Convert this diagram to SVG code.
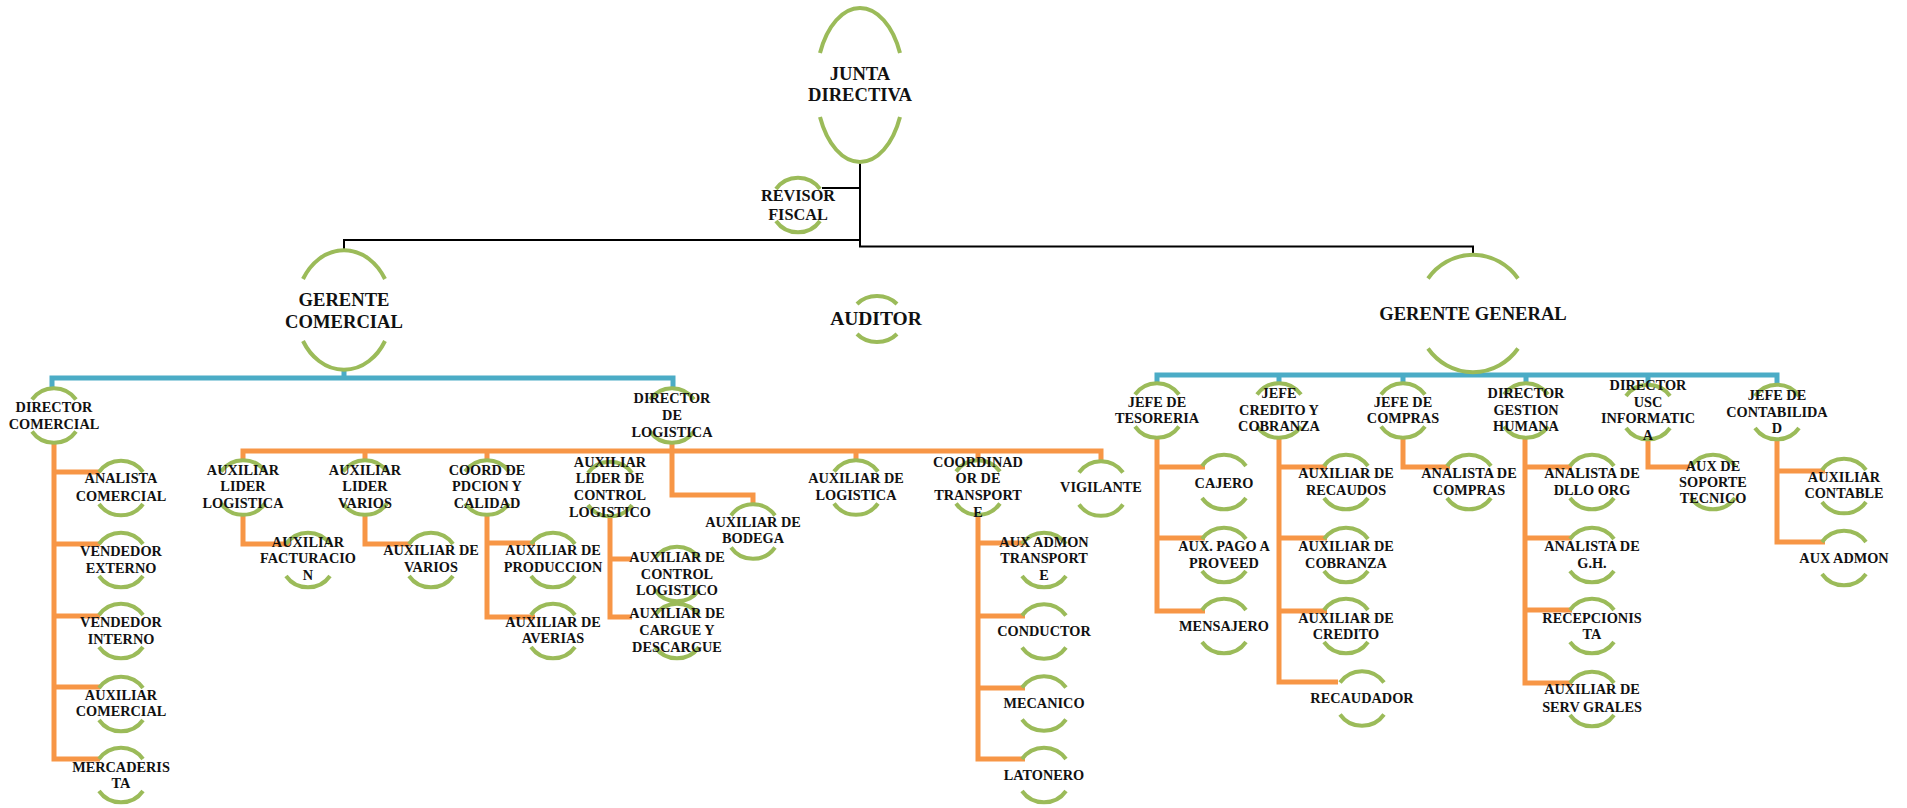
<svg xmlns="http://www.w3.org/2000/svg" width="1907" height="808" viewBox="0 0 1907 808">
<style>
.arc{fill:none;stroke:#9bbb59;stroke-width:4}
.t{font-family:"Liberation Serif","Times New Roman",serif;font-weight:bold;font-size:14.3px;fill:#111;text-anchor:middle}
.tl{font-size:18.6px}
.tm{font-size:16.3px}
.k{fill:none;stroke:#000;stroke-width:2}
.b{fill:none;stroke:#4bacc6;stroke-width:5}
.o{fill:none;stroke:#f79646;stroke-width:5}
</style>
<defs>
<path id="s" d="M-22,-16 A27,27 0 0 1 22,-16 M-22,16 A27,27 0 0 0 22,16"/>
<path id="junta" d="M-40,-32 A44,77 0 0 1 40,-32 M-40,32 A44,77 0 0 0 40,32"/>
<path id="gcom" d="M-41,-31 A48,60 0 0 1 41,-31 M-41,31 A48,60 0 0 0 41,31"/>
<path id="ggen" d="M-45,-35 A56,58.5 0 0 1 45,-35 M-45,35 A56,58.5 0 0 0 45,35"/>
<path id="aud" d="M-20,-15 A26.4,23 0 0 1 20,-15 M-20,15 A26.4,23 0 0 0 20,15"/>
</defs>
<rect width="1907" height="808" fill="#fff"/>
<g id="connectors">
<path class="k" d="M860,162 V246.5 H1473 V255"/>
<path class="k" d="M860,240 H344 V250"/>
<path class="k" d="M822,188 H860"/>
<path class="b" d="M52,388 V378 H673 V388 M344,370 V378"/>
<path class="b" d="M1157,383 V375 H1777 V385 M1473,372 V375 M1279,375 V383 M1403,375 V383 M1526,375 V383 M1648,375 V384"/>
<path class="o" d="M54,443 V759 H100 M54,472 H100 M54,544 H100 M54,616 H100 M54,687 H100"/>
<path class="o" d="M672,443 V451 M243,460 V451 H1101 V462 M365,451 V460 M487,451 V460 M856,451 V460 M978,451 V460"/>
<path class="o" d="M672,451 V495 H753 V505"/>
<path class="o" d="M243,515 V544 H290"/>
<path class="o" d="M365,515 V544 H410"/>
<path class="o" d="M487,515 V617 H535 M487,543 H535"/>
<path class="o" d="M610,517 V617 H632 M610,559 H632"/>
<path class="o" d="M978,517 V759 H1025 M978,543 H1025 M978,616 H1025 M978,688 H1025"/>
<path class="o" d="M1157,438 V611 H1205 M1157,467 H1205 M1157,538 H1205"/>
<path class="o" d="M1279,438 V682 H1338 M1279,467 H1327 M1279,538 H1327 M1279,611 H1327"/>
<path class="o" d="M1403,438 V467 H1450"/>
<path class="o" d="M1525,438 V683 H1572 M1525,467 H1572 M1525,538 H1572 M1525,610 H1572"/>
<path class="o" d="M1648,440 V467 H1690"/>
<path class="o" d="M1777,440 V542 H1825 M1777,471 H1825"/>
</g>
<g id="junta-directiva"><use href="#junta" class="arc" x="860" y="85"/><text class="t tl"><tspan x="860" y="80">JUNTA</tspan><tspan x="860" y="101">DIRECTIVA</tspan></text></g>
<g id="revisor-fiscal"><use href="#s" class="arc" x="798" y="205"/><text class="t tm"><tspan x="798" y="201">REVISOR</tspan><tspan x="798" y="220">FISCAL</tspan></text></g>
<g id="gerente-comercial"><use href="#gcom" class="arc" x="344" y="310"/><text class="t tl"><tspan x="344" y="306">GERENTE</tspan><tspan x="344" y="328">COMERCIAL</tspan></text></g>
<g id="auditor"><use href="#aud" class="arc" x="877" y="319"/><text class="t" style="font-size:19.5px" x="876" y="325">AUDITOR</text></g>
<g id="gerente-general"><use href="#ggen" class="arc" x="1473" y="313.5"/><text class="t tl" x="1473" y="320">GERENTE GENERAL</text></g>

<g id="director-comercial"><use href="#s" class="arc" x="54" y="415.5"/><text class="t"><tspan x="54" y="412">DIRECTOR</tspan><tspan x="54" y="429">COMERCIAL</tspan></text></g>
<g id="analista-comercial"><use href="#s" class="arc" x="121" y="488"/><text class="t"><tspan x="121" y="483">ANALISTA</tspan><tspan x="121" y="501">COMERCIAL</tspan></text></g>
<g id="vendedor-externo"><use href="#s" class="arc" x="121" y="560"/><text class="t"><tspan x="121" y="556">VENDEDOR</tspan><tspan x="121" y="573">EXTERNO</tspan></text></g>
<g id="vendedor-interno"><use href="#s" class="arc" x="121" y="631"/><text class="t"><tspan x="121" y="627">VENDEDOR</tspan><tspan x="121" y="644">INTERNO</tspan></text></g>
<g id="auxiliar-comercial"><use href="#s" class="arc" x="121" y="704"/><text class="t"><tspan x="121" y="700">AUXILIAR</tspan><tspan x="121" y="716">COMERCIAL</tspan></text></g>
<g id="mercaderista"><use href="#s" class="arc" x="121" y="775"/><text class="t"><tspan x="121" y="772">MERCADERIS</tspan><tspan x="121" y="788">TA</tspan></text></g>

<g id="director-logistica"><use href="#s" class="arc" x="672" y="415.5"/><text class="t"><tspan x="672" y="403">DIRECTOR</tspan><tspan x="672" y="420">DE</tspan><tspan x="672" y="437">LOGISTICA</tspan></text></g>
<g id="aux-lider-logistica"><use href="#s" class="arc" x="243" y="487.5"/><text class="t"><tspan x="243" y="475">AUXILIAR</tspan><tspan x="243" y="491">LIDER</tspan><tspan x="243" y="508">LOGISTICA</tspan></text></g>
<g id="aux-facturacion"><use href="#s" class="arc" x="308" y="560"/><text class="t"><tspan x="308" y="547">AUXILIAR</tspan><tspan x="308" y="563">FACTURACIO</tspan><tspan x="308" y="580">N</tspan></text></g>
<g id="aux-lider-varios"><use href="#s" class="arc" x="365" y="487.5"/><text class="t"><tspan x="365" y="475">AUXILIAR</tspan><tspan x="365" y="491">LIDER</tspan><tspan x="365" y="508">VARIOS</tspan></text></g>
<g id="aux-de-varios"><use href="#s" class="arc" x="431" y="560"/><text class="t"><tspan x="431" y="555">AUXILIAR DE</tspan><tspan x="431" y="572">VARIOS</tspan></text></g>
<g id="coord-pdcion"><use href="#s" class="arc" x="487" y="487.5"/><text class="t"><tspan x="487" y="475">COORD DE</tspan><tspan x="487" y="491">PDCION Y</tspan><tspan x="487" y="508">CALIDAD</tspan></text></g>
<g id="aux-produccion"><use href="#s" class="arc" x="553" y="560"/><text class="t"><tspan x="553" y="555">AUXILIAR DE</tspan><tspan x="553" y="572">PRODUCCION</tspan></text></g>
<g id="aux-averias"><use href="#s" class="arc" x="553" y="631"/><text class="t"><tspan x="553" y="627">AUXILIAR DE</tspan><tspan x="553" y="643">AVERIAS</tspan></text></g>
<g id="aux-lider-control"><use href="#s" class="arc" x="610" y="489"/><text class="t"><tspan x="610" y="467">AUXILIAR</tspan><tspan x="610" y="483">LIDER DE</tspan><tspan x="610" y="500">CONTROL</tspan><tspan x="610" y="517">LOGISTICO</tspan></text></g>
<g id="aux-control-logistico"><use href="#s" class="arc" x="677" y="574"/><text class="t"><tspan x="677" y="562">AUXILIAR DE</tspan><tspan x="677" y="579">CONTROL</tspan><tspan x="677" y="595">LOGISTICO</tspan></text></g>
<g id="aux-cargue"><use href="#s" class="arc" x="677" y="631"/><text class="t"><tspan x="677" y="618">AUXILIAR DE</tspan><tspan x="677" y="635">CARGUE Y</tspan><tspan x="677" y="652">DESCARGUE</tspan></text></g>
<g id="aux-bodega"><use href="#s" class="arc" x="753" y="531.5"/><text class="t"><tspan x="753" y="527">AUXILIAR DE</tspan><tspan x="753" y="543">BODEGA</tspan></text></g>
<g id="aux-logistica"><use href="#s" class="arc" x="856" y="487.5"/><text class="t"><tspan x="856" y="483">AUXILIAR DE</tspan><tspan x="856" y="500">LOGISTICA</tspan></text></g>
<g id="coordinador-transporte"><use href="#s" class="arc" x="978" y="487.5"/><text class="t"><tspan x="978" y="467">COORDINAD</tspan><tspan x="978" y="483">OR DE</tspan><tspan x="978" y="500">TRANSPORT</tspan><tspan x="978" y="517">E</tspan></text></g>
<g id="aux-admon-transporte"><use href="#s" class="arc" x="1044" y="560"/><text class="t"><tspan x="1044" y="547">AUX ADMON</tspan><tspan x="1044" y="563">TRANSPORT</tspan><tspan x="1044" y="580">E</tspan></text></g>
<g id="conductor"><use href="#s" class="arc" x="1044" y="631.5"/><text class="t" x="1044" y="636">CONDUCTOR</text></g>
<g id="mecanico"><use href="#s" class="arc" x="1044" y="703.5"/><text class="t" x="1044" y="708">MECANICO</text></g>
<g id="latonero"><use href="#s" class="arc" x="1044" y="775"/><text class="t" x="1044" y="780">LATONERO</text></g>
<g id="vigilante"><use href="#s" class="arc" x="1101" y="488.5"/><text class="t" x="1101" y="492">VIGILANTE</text></g>

<g id="jefe-tesoreria"><use href="#s" class="arc" x="1157" y="410.5"/><text class="t"><tspan x="1157" y="407">JEFE DE</tspan><tspan x="1157" y="423">TESORERIA</tspan></text></g>
<g id="jefe-credito"><use href="#s" class="arc" x="1279" y="410.5"/><text class="t"><tspan x="1279" y="398">JEFE</tspan><tspan x="1279" y="415">CREDITO Y</tspan><tspan x="1279" y="431">COBRANZA</tspan></text></g>
<g id="jefe-compras"><use href="#s" class="arc" x="1403" y="410.5"/><text class="t"><tspan x="1403" y="407">JEFE DE</tspan><tspan x="1403" y="423">COMPRAS</tspan></text></g>
<g id="director-gestion-humana"><use href="#s" class="arc" x="1526" y="410.5"/><text class="t"><tspan x="1526" y="398">DIRECTOR</tspan><tspan x="1526" y="415">GESTION</tspan><tspan x="1526" y="431">HUMANA</tspan></text></g>
<g id="director-usc-informatica"><use href="#s" class="arc" x="1648" y="412"/><text class="t"><tspan x="1648" y="390">DIRECTOR</tspan><tspan x="1648" y="407">USC</tspan><tspan x="1648" y="423">INFORMATIC</tspan><tspan x="1648" y="440">A</tspan></text></g>
<g id="jefe-contabilidad"><use href="#s" class="arc" x="1777" y="412"/><text class="t"><tspan x="1777" y="400">JEFE DE</tspan><tspan x="1777" y="417">CONTABILIDA</tspan><tspan x="1777" y="433">D</tspan></text></g>

<g id="cajero"><use href="#s" class="arc" x="1224" y="482"/><text class="t" x="1224" y="488">CAJERO</text></g>
<g id="aux-pago-proveed"><use href="#s" class="arc" x="1224" y="555"/><text class="t"><tspan x="1224" y="551">AUX. PAGO A</tspan><tspan x="1224" y="568">PROVEED</tspan></text></g>
<g id="mensajero"><use href="#s" class="arc" x="1224" y="626"/><text class="t" x="1224" y="631">MENSAJERO</text></g>
<g id="aux-recaudos"><use href="#s" class="arc" x="1346" y="482"/><text class="t"><tspan x="1346" y="478">AUXILIAR DE</tspan><tspan x="1346" y="495">RECAUDOS</tspan></text></g>
<g id="aux-cobranza"><use href="#s" class="arc" x="1346" y="555"/><text class="t"><tspan x="1346" y="551">AUXILIAR DE</tspan><tspan x="1346" y="568">COBRANZA</tspan></text></g>
<g id="aux-credito"><use href="#s" class="arc" x="1346" y="626"/><text class="t"><tspan x="1346" y="623">AUXILIAR DE</tspan><tspan x="1346" y="639">CREDITO</tspan></text></g>
<g id="recaudador"><use href="#s" class="arc" x="1362" y="698.5"/><text class="t" x="1362" y="703">RECAUDADOR</text></g>
<g id="analista-compras"><use href="#s" class="arc" x="1469" y="482"/><text class="t"><tspan x="1469" y="478">ANALISTA DE</tspan><tspan x="1469" y="495">COMPRAS</tspan></text></g>
<g id="analista-dllo-org"><use href="#s" class="arc" x="1592" y="482"/><text class="t"><tspan x="1592" y="478">ANALISTA DE</tspan><tspan x="1592" y="495">DLLO ORG</tspan></text></g>
<g id="analista-gh"><use href="#s" class="arc" x="1592" y="555"/><text class="t"><tspan x="1592" y="551">ANALISTA DE</tspan><tspan x="1592" y="568">G.H.</tspan></text></g>
<g id="recepcionista"><use href="#s" class="arc" x="1592" y="626"/><text class="t"><tspan x="1592" y="623">RECEPCIONIS</tspan><tspan x="1592" y="639">TA</tspan></text></g>
<g id="aux-serv-grales"><use href="#s" class="arc" x="1592" y="699"/><text class="t"><tspan x="1592" y="694">AUXILIAR DE</tspan><tspan x="1592" y="712">SERV GRALES</tspan></text></g>
<g id="aux-soporte-tecnico"><use href="#s" class="arc" x="1713" y="482"/><text class="t"><tspan x="1713" y="471">AUX DE</tspan><tspan x="1713" y="487">SOPORTE</tspan><tspan x="1713" y="503">TECNICO</tspan></text></g>
<g id="auxiliar-contable"><use href="#s" class="arc" x="1844" y="486"/><text class="t"><tspan x="1844" y="482">AUXILIAR</tspan><tspan x="1844" y="498">CONTABLE</tspan></text></g>
<g id="aux-admon"><use href="#s" class="arc" x="1844" y="558"/><text class="t" x="1844" y="563">AUX ADMON</text></g>
</svg>
